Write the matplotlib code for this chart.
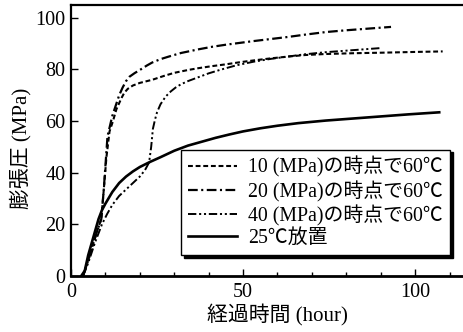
import matplotlib
matplotlib.use('Agg')
import matplotlib.pyplot as plt
from matplotlib.ticker import MultipleLocator

plt.rcParams['font.family'] = ['Liberation Serif', 'Noto Sans CJK JP']
plt.rcParams['lines.scale_dashes'] = False

# 25℃放置
x_25 = [3, 4, 5, 6.5, 8, 9, 10, 12, 14, 16, 18, 20, 23, 26, 30, 34, 38, 42, 46,
        50, 55, 60, 66, 74, 82, 90, 98, 107]
y_25 = [0, 2, 8, 15, 22, 25.5, 28, 32.5, 36, 38.5, 40.5, 42.2, 44.2, 46, 48.5,
        50.5, 52, 53.5, 54.8, 56, 57.2, 58.2, 59.2, 60.2, 61, 61.8, 62.6, 63.4]

# 10 MPa の時点で60℃
x_10 = [3.5, 5, 7.5, 8.8, 9.5, 10.3, 11.2, 12.2, 13.2, 14.7, 15.5, 16.5, 18, 20,
        23.6, 27, 30, 34, 37, 41, 45, 49, 53, 58, 63, 68, 74, 82, 90, 100, 108]
y_10 = [0, 6, 17, 22, 33, 46, 56, 60, 64.6, 69, 71, 72.5, 73.8, 74.8,
        76, 77.5, 78.7, 79.8, 80.5, 81.3, 82, 82.8, 83.5, 84.3, 85, 85.6, 86,
        86.3, 86.5, 86.8, 87]

# 20 MPa の時点で60℃
x_20 = [3.5, 5, 7.5, 8.8, 9.5, 10.6, 12, 14, 15, 16, 17, 18.5, 20, 22, 23.6, 26,
        28.4, 32, 37, 41, 45, 49, 53, 58, 63, 68, 74, 80, 86, 93]
y_20 = [0, 6, 17, 22, 33, 54, 62, 70, 73, 75.5, 77.2, 78.6, 79.8, 81.5, 82.7, 84,
        85, 86.4, 87.8, 88.8, 89.6, 90.3, 91, 91.8, 92.6, 93.5, 94.5, 95.2,
        95.8, 96.5]

# 40 MPa の時点で60℃
x_40 = [3.5, 5, 7, 9, 10.5, 12, 14, 16, 18, 20, 21.5, 22.7, 23.3, 23.8, 24.4,
        25, 26, 27.5, 29, 30.4, 32, 34, 37, 40, 43.7, 48, 53, 58, 63, 68, 74,
        82, 90]
y_40 = [0, 5, 13, 20, 24, 27.5, 31, 33.5, 36, 38.5, 41, 44, 50, 57, 60.5,
        63.4, 66.5, 69.5, 71.5, 73, 74.3, 75.5, 77, 78.5, 80, 81.6, 83, 84.1,
        85, 85.9, 86.7, 87.5, 88.3]

labels = ['10 (MPa)の時点で60℃', '20 (MPa)の時点で60℃',
          '40 (MPa)の時点で60℃', '25℃放置']

fig = plt.figure(figsize=(4.64, 3.32), dpi=100)
ax = fig.add_axes([0.153, 0.169, 0.847, 0.816])

ax.plot(x_10, y_10, color='k', lw=1.5, ls=(0, (3.5, 2)), label=labels[0])
ax.plot(x_20, y_20, color='k', lw=1.6, ls=(0, (7, 2.5, 1.5, 2.5)), label=labels[1])
ax.plot(x_40, y_40, color='k', lw=1.4, ls=(0, (6, 2, 1.5, 2, 1.5, 2)), label=labels[2])
ax.plot(x_25, y_25, color='k', lw=1.9, ls='-', label=labels[3])

ax.set_xlim(0, 114.2)
ax.set_ylim(0, 105)
ax.xaxis.set_major_locator(MultipleLocator(50))
ax.xaxis.set_minor_locator(MultipleLocator(10))
ax.yaxis.set_major_locator(MultipleLocator(20))
ax.tick_params(which='both', direction='in', labelsize=14.5, width=1, color='k')
ax.tick_params(which='major', length=5, pad=5)
ax.tick_params(which='minor', length=3)
ax.tick_params(axis='y', pad=4)

ax.spines['right'].set_visible(False)
ax.spines['left'].set_linewidth(1.6)
ax.spines['bottom'].set_linewidth(2.0)
ax.spines['top'].set_linewidth(1.6)

ax.set_xlabel('経過時間 (hour)', fontsize=15)
ax.xaxis.set_label_coords(0.525, -0.105)
ax.set_ylabel('膨張圧 (MPa)', fontsize=15)
ax.yaxis.set_label_coords(-0.1, 0.47)

leg = ax.legend(loc='lower right', bbox_to_anchor=(0.99, 0.04), fontsize=14.3,
                frameon=True, fancybox=False, edgecolor='k', framealpha=1,
                shadow={'color': 'k', 'alpha': 1},
                handlelength=2.5, handletextpad=0.55, labelspacing=0.15,
                borderpad=0.35)
leg.get_frame().set_linewidth(1.0)

fig.savefig('out.png', dpi=100)
